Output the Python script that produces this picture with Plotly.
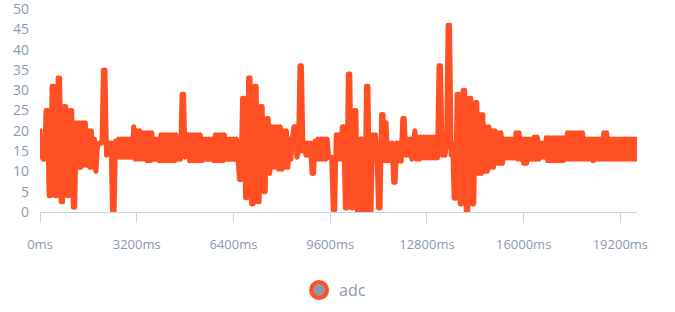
import plotly.graph_objects as go

step_ms = 50
adc = [
    20, 14, 13, 13, 25, 25, 4, 4, 31, 31,
    4, 4, 33, 33, 2.5, 2.5, 26, 26, 4, 4,
    25, 25, 1.2, 1.2, 22, 11, 22, 11, 22, 11.5,
    22, 11.5, 20, 11, 20, 11, 18, 10, 16, 17,
    17, 17, 35, 35, 14, 16, 17, 17, -0.5, -0.5,
    17.5, 13.5, 18, 13.5, 18, 13.5, 18, 13.5, 18, 13.5,
    18, 13.5, 21, 13, 20, 13, 20, 13, 19.5, 13,
    19.5, 12.6, 19.5, 12.6, 19.5, 13, 18, 13, 18, 12.6,
    19, 12.6, 19, 12.6, 19, 12.6, 19, 12.6, 19, 12.6,
    19, 13, 13, 13, 29, 29, 13.5, 19, 19, 12.6,
    19, 12.6, 19, 12.6, 19, 12.6, 19, 12.6, 18, 13,
    18, 13, 18, 13, 18, 12.6, 19, 12.6, 19, 12.6,
    19, 12.6, 19, 13, 18, 13, 18, 13, 18, 13,
    18, 13, 8, 8, 28, 28, 3.5, 3.5, 33, 33,
    2, 2, 31, 31, 2.5, 2.5, 26, 26, 5, 5,
    23, 23, 9.5, 21, 11, 21, 11, 21, 10.5, 21,
    10.5, 20, 11, 20, 11, 18, 13, 18, 21, 21,
    13.5, 15, 36, 36, 15, 17, 14, 17, 14, 17,
    9.5, 9.5, 17.5, 13, 18, 13, 18, 13, 18, 13,
    18, 13.5, 13.5, 13.5, 0.5, 0.5, 19, 13, 19, 13,
    21, 21, 1, 1, 34, 34, 1, 1, 25, 25,
    0, 0, 18, 18, 0, 0, 31, 31, 0, 0,
    19, 13, 19, 13, 1, 1, 24, 24, 12.6, 22,
    12.6, 17, 12.6, 17, 7.3, 7.3, 17, 12.5, 17, 12.5,
    23, 23, 14, 18, 14, 18, 13, 18, 20, 13,
    18.5, 13, 18.5, 13.3, 18.5, 13.3, 18.5, 13.3, 18.5, 13.3,
    18.5, 13.3, 18.5, 13.3, 36, 36, 14, 17, 14, 17,
    46, 46, 14, 17, 3.4, 3.4, 29, 29, 2, 2,
    30, 30, -0.3, -0.3, 28, 28, 2, 2, 27, 27,
    9.5, 24, 9.5, 24, 10, 21, 10, 21, 11, 20,
    11, 20, 12, 19.5, 12, 19.5, 12, 18, 13.3, 18,
    13.3, 18, 13.3, 18, 13.3, 19.5, 13, 19.5, 13, 18,
    12, 18, 12, 18, 13, 18, 13, 18.5, 13, 18.5,
    13, 17, 13.5, 17, 13.5, 18.3, 12.6, 18.3, 12.6, 18.3,
    12.6, 18.3, 12.6, 18.3, 12.6, 18.3, 12.6, 18.3, 13, 19.5,
    13, 19.5, 13, 19.5, 13, 19.5, 13, 19.5, 13, 19.5,
    13, 18, 13, 18, 13, 18, 12.6, 18, 13, 18,
    13, 18, 13, 19.5, 13, 19.5, 13, 18, 13, 18,
    13, 18, 13, 18, 13, 18, 13, 18, 13, 18,
    13, 18, 13, 18, 13, 18,
]
times = [i * step_ms for i in range(len(adc))]
x_tickvals = [0, 3200, 6400, 9600, 12800, 16000, 19200]
x_ticktext = [f"{v}ms" for v in x_tickvals]
y_tickvals = list(range(0, 51, 5))

LINE = "#ff4f23"
TXT = "#8c9ab0"
AX = "#ccd3de"
FONT = "Open Sans"

fig = go.Figure()
fig.add_trace(go.Scatter(
    x=times, y=adc, mode="lines", showlegend=False,
    line=dict(color=LINE, width=5),
    hoverinfo="skip",
))
fig.add_trace(go.Scatter(
    x=[None], y=[None], mode="markers", name="adc",
    marker=dict(symbol="circle", size=16, color="#8c9aab",
                line=dict(color=LINE, width=4)),
))
fig.update_layout(
    width=675, height=312,
    margin=dict(l=40, r=38, t=9, b=100, autoexpand=False),
    paper_bgcolor="white", plot_bgcolor="white",
    font=dict(family=FONT, size=13, color=TXT),
    legend=dict(orientation="h", x=0.434, xanchor="left", y=-0.385, yanchor="middle",
                font=dict(family=FONT, size=16, color=TXT), itemsizing="trace"),
)
fig.update_xaxes(
    range=[0, times[-1]], tickvals=x_tickvals, ticktext=x_ticktext,
    showgrid=False, zeroline=False, showline=True, linecolor=AX, linewidth=1,
    ticks="outside", ticklen=10, tickcolor=AX, ticklabelstandoff=10,
    tickfont=dict(family=FONT, size=13, color=TXT), automargin=False,
)
fig.update_yaxes(
    range=[0, 50], tickvals=y_tickvals, showgrid=False, zeroline=False,
    showline=False, ticks="", ticklabelstandoff=10, ticklabeloverflow="allow",
    tickfont=dict(family=FONT, size=14, color=TXT), automargin=False,
)
post = """
var gd = document.getElementsByClassName('plotly-graph-div')[0];
function rj(){ gd.querySelectorAll('.scatterlayer path.js-line').forEach(function(p){
  p.style.strokeLinejoin='round'; p.style.strokeLinecap='round'; }); }
rj(); gd.on('plotly_afterplot', rj);
"""
fig.write_html("out.html", post_script=post)
